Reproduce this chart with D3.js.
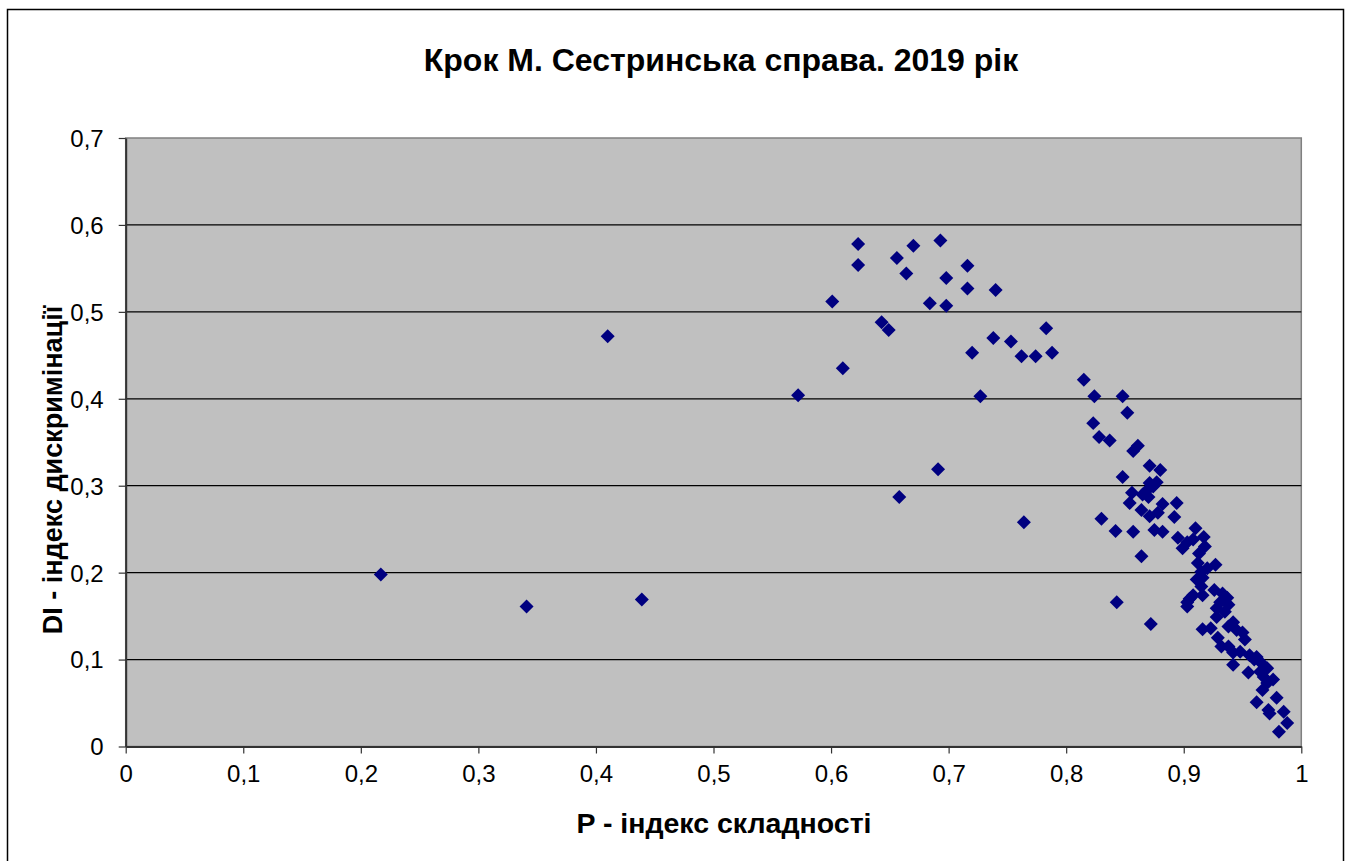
<!DOCTYPE html>
<html>
<head>
<meta charset="utf-8">
<script src="https://cdn.jsdelivr.net/npm/d3@7"></script>
<style>
  body { margin: 0; background: #fff; }
  svg { display: block; font-family: "Liberation Sans", Arial, sans-serif; }
</style>
</head>
<body>
<svg id="chart" width="1349" height="861"></svg>
<script>
// P - difficulty index, DI - discrimination index
var pVals = [
  0.217, 0.341, 0.410, 0.439, 0.572, 0.601, 0.610, 0.623, 0.623, 0.643,
  0.649, 0.656, 0.658, 0.664, 0.670, 0.684, 0.691, 0.693, 0.698, 0.698,
  0.716, 0.716, 0.720, 0.727, 0.738, 0.740, 0.753, 0.762, 0.764, 0.774,
  0.783, 0.788, 0.815, 0.824, 0.848, 0.852, 0.823, 0.828, 0.837, 0.861,
  0.857, 0.871, 0.880, 0.848, 0.871, 0.874, 0.869, 0.877, 0.856, 0.865,
  0.870, 0.854, 0.882, 0.894, 0.864, 0.878, 0.871, 0.892, 0.830, 0.842,
  0.857, 0.875, 0.882, 0.910, 0.917, 0.895, 0.903, 0.908, 0.918, 0.899,
  0.864, 0.927, 0.912, 0.915, 0.916, 0.911, 0.915, 0.908, 0.903, 0.903,
  0.916, 0.926, 0.933, 0.937, 0.931, 0.938, 0.928, 0.928, 0.843, 0.872,
  0.942, 0.938, 0.945, 0.916, 0.923, 0.950, 0.952, 0.929, 0.932, 0.938,
  0.942, 0.948, 0.942, 0.956, 0.962, 0.966, 0.965, 0.971, 0.955, 0.976,
  0.971, 0.967, 0.979, 0.962, 0.972, 0.973, 0.985, 0.988, 0.981, 0.913,
  0.920, 0.905, 0.935, 0.960, 0.968
];
var diVals = [
  0.198, 0.161, 0.472, 0.169, 0.404, 0.512, 0.435, 0.578, 0.554, 0.488,
  0.479, 0.562, 0.287, 0.544, 0.576, 0.510, 0.319, 0.582, 0.507, 0.539,
  0.553, 0.527, 0.453, 0.403, 0.470, 0.525, 0.466, 0.449, 0.258, 0.449,
  0.481, 0.453, 0.422, 0.403, 0.403, 0.384, 0.372, 0.356, 0.352, 0.346,
  0.340, 0.323, 0.318, 0.310, 0.303, 0.299, 0.295, 0.304, 0.292, 0.290,
  0.287, 0.280, 0.279, 0.280, 0.272, 0.269, 0.265, 0.264, 0.262, 0.248,
  0.247, 0.249, 0.247, 0.251, 0.241, 0.240, 0.235, 0.238, 0.230, 0.228,
  0.219, 0.209, 0.211, 0.201, 0.194, 0.192, 0.184, 0.174, 0.166, 0.161,
  0.174, 0.180, 0.176, 0.171, 0.166, 0.163, 0.159, 0.149, 0.166, 0.141,
  0.143, 0.138, 0.134, 0.135, 0.136, 0.131, 0.123, 0.125, 0.115, 0.115,
  0.108, 0.109, 0.094, 0.105, 0.103, 0.096, 0.086, 0.090, 0.085, 0.077,
  0.073, 0.065, 0.056, 0.051, 0.042, 0.038, 0.040, 0.027, 0.017, 0.222,
  0.205, 0.170, 0.155, 0.100, 0.080
];
var xTicks = [0, 0.1, 0.2, 0.3, 0.4, 0.5, 0.6, 0.7, 0.8, 0.9, 1];
var yTicks = [0, 0.1, 0.2, 0.3, 0.4, 0.5, 0.6, 0.7];

var titleText = "Крок М. Сестринська справа. 2019 рік";
var xTitle = "P - індекс складності";
var yTitle = "DI - індекс дискримінації";

var svg = d3.select("#chart");
var fmt = function(d) { return String(d).replace(".", ","); };

// outer frame
svg.append("rect")
  .attr("x", 7.5).attr("y", 9.5)
  .attr("width", 1336).attr("height", 880)
  .attr("fill", "#fff").attr("stroke", "#000").attr("stroke-width", 1.5);

var pLeft = 125.7, pRight = 1301.3, pTop = 138, pBottom = 746.5;
var x = d3.scaleLinear().domain([0, 1]).range([pLeft, pRight]);
var y = d3.scaleLinear().domain([0, 0.7]).range([pBottom, pTop]);

// plot area
svg.append("rect")
  .attr("x", pLeft).attr("y", pTop)
  .attr("width", pRight - pLeft).attr("height", pBottom - pTop)
  .attr("fill", "#c0c0c0").attr("stroke", "#808080").attr("stroke-width", 1.5);

// grid lines
svg.append("g").selectAll("line")
  .data(yTicks.filter(function(d) { return d > 0 && d < 0.7; }))
  .enter().append("line")
  .attr("x1", pLeft).attr("x2", pRight)
  .attr("y1", function(d) { return y(d); }).attr("y2", function(d) { return y(d); })
  .attr("stroke", "#000").attr("stroke-width", 1.2);

// axes
var xAxis = svg.append("g")
  .attr("transform", "translate(0," + pBottom + ")")
  .call(d3.axisBottom(x).tickValues(xTicks).tickFormat(fmt).tickSize(7).tickSizeOuter(0));
var yAxis = svg.append("g")
  .attr("transform", "translate(" + pLeft + ",0)")
  .call(d3.axisLeft(y).tickValues(yTicks).tickFormat(fmt).tickSize(7).tickSizeOuter(0));

[xAxis, yAxis].forEach(function(a) {
  a.select(".domain").attr("stroke", "#333").attr("stroke-width", 2);
  a.selectAll(".tick line").attr("stroke", "#333").attr("stroke-width", 1.2);
  a.selectAll(".tick text")
    .attr("fill", "#000")
    .style("font-size", "24px")
    .style("font-family", "'Liberation Sans', Arial, sans-serif");
});
xAxis.selectAll(".tick text").attr("y", 16).attr("dy", "0.8em");
yAxis.selectAll(".tick text").attr("x", -22).attr("dy", "0.35em");

// markers
var pts = pVals.map(function(p, i) { return { p: p, di: diVals[i] }; });
svg.append("g").selectAll("path")
  .data(pts)
  .enter().append("path")
  .attr("d", d3.symbol().type(d3.symbolSquare).size(98))
  .attr("transform", function(d) {
    return "translate(" + x(d.p) + "," + y(d.di) + ") rotate(45)";
  })
  .attr("fill", "#000080");

// titles
svg.append("text")
  .attr("x", 721).attr("y", 71)
  .attr("text-anchor", "middle")
  .style("font-size", "32px").style("font-weight", "bold")
  .text(titleText);

svg.append("text")
  .attr("x", 724).attr("y", 833)
  .attr("text-anchor", "middle")
  .style("font-size", "28.5px").style("font-weight", "bold")
  .text(xTitle);

svg.append("text")
  .attr("transform", "translate(62,470) rotate(-90)")
  .attr("text-anchor", "middle")
  .style("font-size", "27px").style("font-weight", "bold")
  .text(yTitle);
</script>
</body>
</html>
